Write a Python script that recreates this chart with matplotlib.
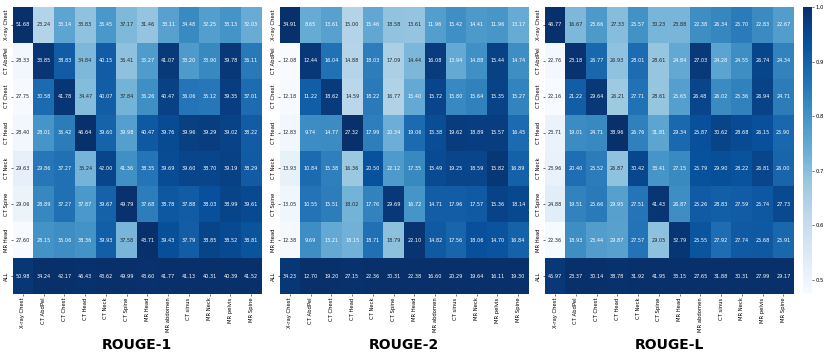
import numpy as np
import matplotlib
matplotlib.use("Agg")
import matplotlib.pyplot as plt
import seaborn as sns

rows = ["X-ray Chest", "CT AbdPel", "CT Chest", "CT Head", "CT Neck", "CT Spine", "MR Head", "ALL"]
cols = ["X-ray Chest", "CT AbdPel", "CT Chest", "CT Head", "CT Neck", "CT Spine", "MR Head",
        "MR abdomen", "CT sinus", "MR Neck", "MR pelvis", "MR Spine"]

rouge1 = [
    [51.68, 23.24, 33.14, 33.83, 35.45, 37.17, 31.46, 33.11, 34.48, 32.25, 33.13, 32.03],
    [28.33, 33.85, 38.83, 34.84, 40.15, 36.41, 35.27, 41.07, 33.20, 33.90, 39.78, 36.11],
    [27.75, 30.58, 41.78, 34.47, 40.07, 37.84, 36.26, 40.47, 36.06, 35.12, 39.35, 37.01],
    [28.40, 28.01, 36.42, 46.64, 39.60, 39.98, 40.47, 39.76, 39.96, 39.29, 39.02, 38.22],
    [29.63, 29.86, 37.27, 35.24, 42.00, 41.36, 38.35, 39.69, 39.60, 38.70, 39.19, 38.29],
    [29.06, 28.89, 37.27, 37.87, 39.67, 49.79, 37.68, 38.78, 37.88, 38.03, 38.99, 39.61],
    [27.60, 28.15, 35.06, 38.36, 39.93, 37.58, 43.71, 39.43, 37.79, 38.85, 38.52, 38.81],
    [50.98, 34.24, 42.17, 46.43, 43.62, 49.99, 43.60, 41.77, 41.13, 40.31, 40.39, 41.52],
]
rouge2 = [
    [34.91, 8.65, 13.61, 15.00, 15.46, 18.58, 13.61, 11.96, 15.42, 14.41, 11.96, 13.17],
    [12.08, 12.44, 16.04, 14.88, 18.03, 17.09, 14.44, 16.08, 13.94, 14.88, 15.44, 14.74],
    [12.18, 11.22, 18.62, 14.59, 18.22, 16.77, 15.40, 15.72, 15.80, 15.64, 15.35, 15.27],
    [12.83, 9.74, 14.77, 27.32, 17.99, 20.34, 19.06, 15.38, 19.62, 18.89, 15.57, 16.45],
    [13.93, 10.84, 15.38, 16.36, 20.50, 22.12, 17.35, 15.49, 19.25, 18.59, 15.82, 16.89],
    [13.05, 10.55, 15.51, 18.02, 17.76, 29.69, 16.72, 14.71, 17.96, 17.57, 15.36, 18.14],
    [12.38, 9.69, 13.21, 18.15, 18.71, 18.79, 22.10, 14.82, 17.56, 18.06, 14.70, 16.84],
    [34.23, 12.70, 19.20, 27.15, 22.36, 30.31, 22.38, 16.60, 20.29, 19.64, 16.11, 19.30],
]
rougeL = [
    [46.77, 16.67, 23.66, 27.33, 25.57, 30.23, 23.88, 22.38, 26.34, 25.70, 22.83, 22.67],
    [22.76, 23.18, 26.77, 26.93, 28.01, 28.61, 24.84, 27.03, 24.28, 24.55, 26.74, 24.34],
    [22.16, 21.22, 29.64, 26.21, 27.71, 28.61, 25.65, 26.48, 26.02, 25.36, 26.94, 24.71],
    [23.71, 19.01, 24.71, 38.96, 26.76, 31.81, 29.34, 25.87, 30.62, 28.68, 26.15, 25.90],
    [23.96, 20.40, 25.52, 26.87, 30.42, 33.41, 27.15, 25.79, 29.90, 28.22, 26.81, 26.00],
    [24.88, 19.51, 25.66, 29.95, 27.51, 41.43, 26.87, 25.26, 28.83, 27.59, 25.74, 27.73],
    [22.36, 18.93, 23.44, 29.87, 27.57, 29.05, 32.79, 25.55, 27.92, 27.74, 25.68, 25.91],
    [45.97, 23.37, 30.14, 38.78, 31.92, 41.95, 33.15, 27.65, 31.88, 30.31, 27.99, 29.17],
]
titles = ["ROUGE-1", "ROUGE-2", "ROUGE-L"]
datasets = [rouge1, rouge2, rougeL]

W, H = 830, 359
fig = plt.figure(figsize=(W / 100, H / 100), dpi=100)

top = 7
bot = 294
lefts = [12.6, 279.5, 544.7]
width = 249.0
cax = fig.add_axes([803 / W, 1 - bot / H, 9 / W, (bot - top) / H])

for k, (vals, title, lx) in enumerate(zip(datasets, titles, lefts)):
    arr = np.array(vals)
    norm = arr / arr.max(axis=0, keepdims=True)
    ax = fig.add_axes([lx / W, 1 - bot / H, width / W, (bot - top) / H])
    sns.heatmap(norm, ax=ax, cmap="Blues", annot=arr, fmt=".2f",
                annot_kws={"size": 3.6},
                cbar=(k == 2), cbar_ax=cax if k == 2 else None,
                xticklabels=cols, yticklabels=rows)
    ax.tick_params(axis="both", labelsize=3.8, length=1.5, width=0.4, pad=1)
    ax.set_xticklabels(cols, rotation=90)
    ax.set_yticklabels(rows, rotation=90, va="center")
    fig.text((lx + width / 2) / W, 1 - 345 / H, title, ha="center", va="center",
             fontsize=10, fontweight="bold")

cax.tick_params(labelsize=3.8, length=1.5, width=0.4, pad=1)

fig.savefig("out.png", dpi=100)
